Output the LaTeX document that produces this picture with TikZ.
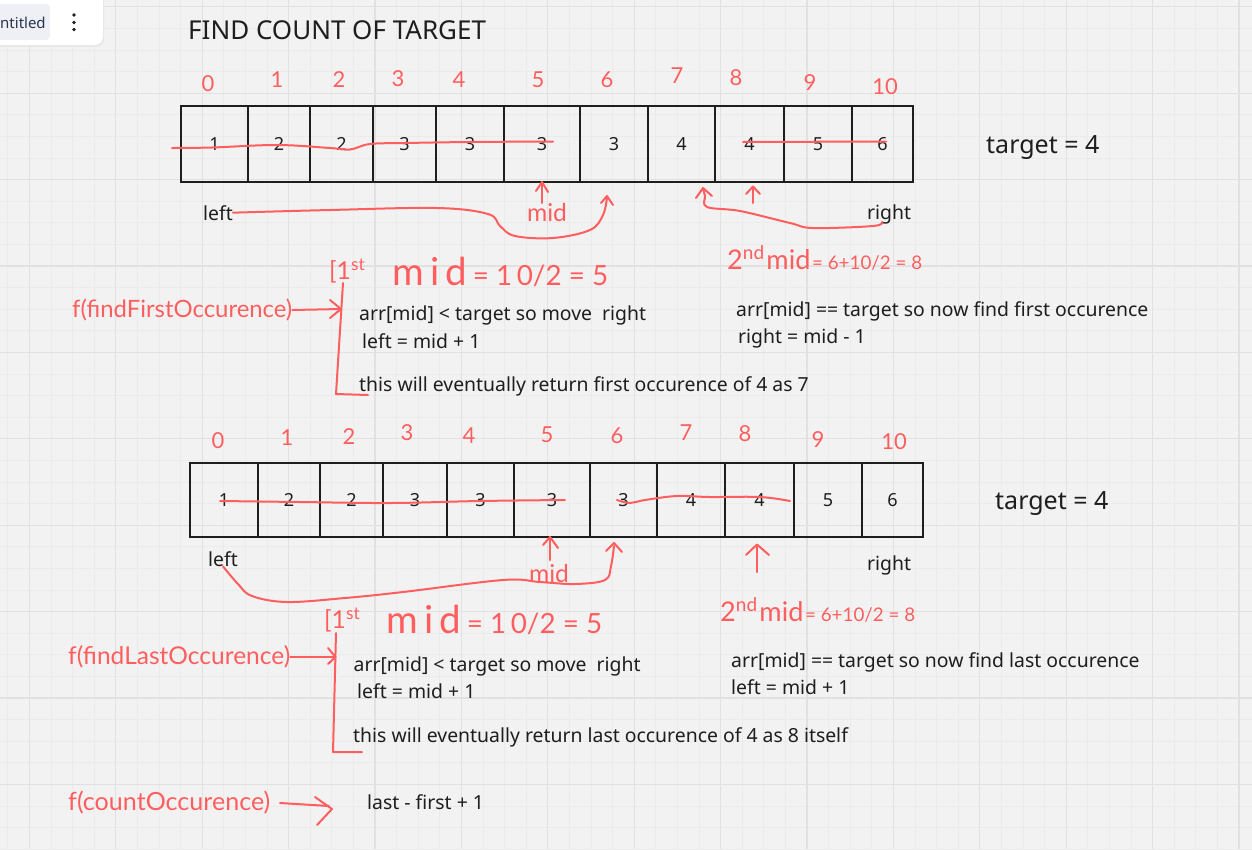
\documentclass[tikz,border=0pt]{standalone}
\usepackage{fontspec}
\setmainfont{Noto Sans}
\newfontfamily\handfont{Lato}
\usepackage{graphicx}
\definecolor{bg}{HTML}{F2F2F2}
\definecolor{gmin}{HTML}{EBEBEB}
\definecolor{gmaj}{HTML}{E1E1E1}
\definecolor{ink}{HTML}{1E1E1E}
\definecolor{pen}{HTML}{FF5E5E}
\definecolor{uitext}{HTML}{2B3550}
\definecolor{uibox}{HTML}{EEF0F5}
\newcommand{\hw}[2]{\resizebox{#1pt}{!}{\handfont #2}}
\begin{document}
\begin{tikzpicture}[x=1pt,y=-1pt,
  cell/.style={draw=ink, line width=2pt, inner sep=0pt, outer sep=0pt, text=ink, font=\fontsize{18}{18}\selectfont},
  txt/.style={anchor=base west, inner sep=0pt, text=ink, font=\fontsize{19.4}{19.4}\selectfont},
  idx/.style={text=pen, inner sep=0pt, font=\handfont\fontsize{22}{22}\selectfont},
  hwnode/.style={text=pen, inner sep=0pt, anchor=west},
  redline/.style={draw=pen, line width=2pt, line cap=round, line join=round},
  minorgrid/.style={draw=gmin, line width=0.8pt},
  majorgrid/.style={draw=gmaj, line width=1.2pt}]
\useasboundingbox (0,0) rectangle (1252,849);
\fill[bg] (0,0) rectangle (1252,849);
% grid
\foreach \k in {-1,...,58} \draw[minorgrid] ({29.3+\k*21.6},0) -- ({29.3+\k*21.6},849);
\foreach \k in {-1,...,40} \draw[minorgrid] (0,{6.8+\k*21.6}) -- (1252,{6.8+\k*21.6});
\foreach \k in {0,...,14} \draw[majorgrid] ({29.3+\k*86.4},0) -- ({29.3+\k*86.4},849);
\foreach \k in {0,...,9} \draw[majorgrid] (0,{6.8+\k*86.4}) -- (1252,{6.8+\k*86.4});

% UI tab
\fill[black!10, rounded corners=8pt] (-20,-20) rectangle (104,46.5);
\fill[white, rounded corners=8pt] (-20,-20) rectangle (103,45);
\fill[uibox, rounded corners=4pt] (-20,4) rectangle (50,40);
\node[anchor=base west, inner sep=0pt, text=uitext, font=\fontsize{15}{15}\selectfont] (tab) at (0,28) {\llap{U}ntitled};
\foreach \yy in {15,22.5,29.5} \fill[ink] (74,\yy) circle (1.8);

% title
\node[anchor=base west, inner sep=0pt, text=ink, font=\fontsize{26}{26}\selectfont] (title) at (188,39.5) {FIND COUNT OF TARGET};

% ---------- array 1 ----------
\foreach \l/\r/\v [count=\i from 0] in {181/248/1,248/310/2,310/373/2,373/436/3,436/504/3,504/580/3,580/648/3,648/715/4,715/784/4,784/852/5,852/913/6}
  \node[cell, minimum width={\r-\l}, minimum height=76] (a\i) at ({(\l+\r)/2},144) {\v};
\foreach \x/\y/\t [count=\i from 0] in {208/84/0,277/80/1,339/80/2,398/79/3,459/80/4,538/80/5,607/80/6,677/76/7,736/78/8,810/83/9,885/87/10}
  \node[idx] (i\i) at (\x,\y) {\t};
\node[anchor=base west, inner sep=0pt, text=ink, font=\fontsize{25}{25}\selectfont] (tg1) at (986,153) {target = 4};
% strike lines
\draw[redline] plot[smooth, tension=0.6] coordinates {(172,148) (212,147.5) (277,145) (330,148) (350,149.5) (370,144) (406,143) (470,142) (553,141.5)};
\draw[redline] (743,142) -- (886,141.5);
\node[txt] (l1) at (203,220) {left};
\node[txt] (r1) at (867,219) {right};
% mid arrow
\draw[redline] (542,203) -- (542,182);
\draw[redline] (536,191) -- (542,182) -- (548,192);
\node[hwnode, anchor=center] (m1) at (547,213) {\hw{40}{mid}};
% left curve
\draw[redline] plot[smooth, tension=0.6] coordinates {(l1.east) (330,210) (437,208) (488,214) (500,226) (515,236) (553,238) (590,230) (603,215) (607,197)};
\draw[redline] (601,203) -- (607,196) -- (613,205);
% right curve
\draw[redline] plot[smooth, tension=0.6] coordinates {(882,222) (873,226) (813,228) (790,223) (740,211) (707,207) (705,196) (703,189)};
\draw[redline] (696,198) -- (703,188) -- (712,196);
\draw[redline] (753,203) -- (753,187);
\draw[redline] (746,194) -- (753,186.5) -- (760,194);
% handwritten notes
\node[hwnode] (n2a) at (727,258) {\hw{195}{{\fontsize{26}{26}\selectfont 2\textsuperscript{nd}}\,{\fontsize{26}{26}\selectfont mid}\,{\fontsize{18}{18}\selectfont = 6+10/2 = 8}}};
\node[hwnode] (n1a) at (329,271) {\hw{36}{{\fontsize{24}{24}\selectfont [1\textsuperscript{st}}}};
\node[hwnode] (n1b) at (392,272) {\hw{216}{{\fontsize{36}{36}\selectfont m\,i\,d}\enspace{\fontsize{26}{26}\selectfont = 1\,0/2 = 5}}};
\node[hwnode] (f1) at (72,310) {\hw{220}{f(findFirstOccurence)}};
\draw[redline] (f1.east) -- (341,309);
\draw[redline] (330,300) -- (341,309) -- (330,318);
\draw[redline] (343,283) -- (336,394) -- (368,395);
\node[txt] (t1a) at (359,320) {arr[mid] < target so move\ \ right};
\node[txt] (t1b) at (362,348) {left = mid + 1};
\node[txt] (t1c) at (359,391) {this will eventually return first occurence of 4 as 7};
\node[txt] (t1d) at (736,316) {arr[mid] == target so now find first occurence};
\node[txt] (t1e) at (738,343) {right = mid - 1};

% ---------- array 2 ----------
\foreach \l/\r/\v [count=\i from 0] in {190/258/1,258/320/2,320/383/2,383/447/3,447/514/3,514/590/3,590/657/3,657/725/4,725/794/4,794/862/5,862/923/6}
  \node[cell, minimum width={\r-\l}, minimum height=74] (b\i) at ({(\l+\r)/2},500) {\v};
\foreach \x/\y/\t [count=\i from 0] in {218/441/0,287/438/1,349/437/2,407/433/3,469/436/4,547/435/5,617/436/6,686/433/7,745/434/8,818/440/9,894/442/10}
  \node[idx] (j\i) at (\x,\y) {\t};
\node[anchor=base west, inner sep=0pt, text=ink, font=\fontsize{25}{25}\selectfont] (tg2) at (995,509) {target = 4};
\draw[redline] plot[smooth, tension=0.6] coordinates {(220,501) (300,502) (390,503) (480,501) (565,500)};
\draw[redline] plot[smooth, tension=0.6] coordinates {(617,500) (630,503) (645,500) (677,496) (710,497) (760,497) (790,501)};
\node[txt] (l2) at (208,566) {left};
\node[txt] (r2) at (867,570) {right};
\draw[redline] (550,560) -- (550,537);
\draw[redline] (543,545) -- (550,537) -- (558,548);
\node[hwnode, anchor=center] (m2) at (549,573) {\hw{40}{mid}};
\draw[redline] plot[smooth, tension=0.6] coordinates {(l2.south) (238,584) (252,596) (287,602) (345,598) (403,592) (503,580) (540,582) (575,584) (605,580) (611,566) (614,546)};
\draw[redline] (606,551) -- (614,543) -- (622,552);
\draw[redline] (757,572) -- (757,545);
\draw[redline] (746,555) -- (757,544.5) -- (769,555);
\node[hwnode] (n4a) at (720,610) {\hw{195}{{\fontsize{26}{26}\selectfont 2\textsuperscript{nd}}\,{\fontsize{26}{26}\selectfont mid}\,{\fontsize{18}{18}\selectfont = 6+10/2 = 8}}};
\node[hwnode] (n3a) at (324,620) {\hw{36}{{\fontsize{24}{24}\selectfont [1\textsuperscript{st}}}};
\node[hwnode] (n3b) at (386,620) {\hw{216}{{\fontsize{36}{36}\selectfont m\,i\,d}\enspace{\fontsize{26}{26}\selectfont = 1\,0/2 = 5}}};
\node[hwnode] (f2) at (68,657) {\hw{222}{f(findLastOccurence)}};
\draw[redline] (f2.east) -- (335.5,657);
\draw[redline] (328,648) -- (335.5,657) -- (328,664);
\draw[redline] (336,633) -- (333,752) -- (362,752);
\node[txt] (t2a) at (353.5,671) {arr[mid] < target so move\ \ right};
\node[txt] (t2b) at (357,698) {left = mid + 1};
\node[txt] (t2c) at (353,742) {this will eventually return last occurence of 4 as 8 itself};
\node[txt] (t2d) at (731,667) {arr[mid] == target so now find last occurence};
\node[txt] (t2e) at (731,694) {left = mid + 1};

% ---------- count ----------
\node[hwnode] (f3) at (68,803) {\hw{202}{f(countOccurence)}};
\draw[redline] (280,803) -- (329,806);
\draw[redline] (315,797) -- (332,809) -- (317,825);
\node[txt] (t3) at (367,809) {last - first + 1};
\end{tikzpicture}
\end{document}
